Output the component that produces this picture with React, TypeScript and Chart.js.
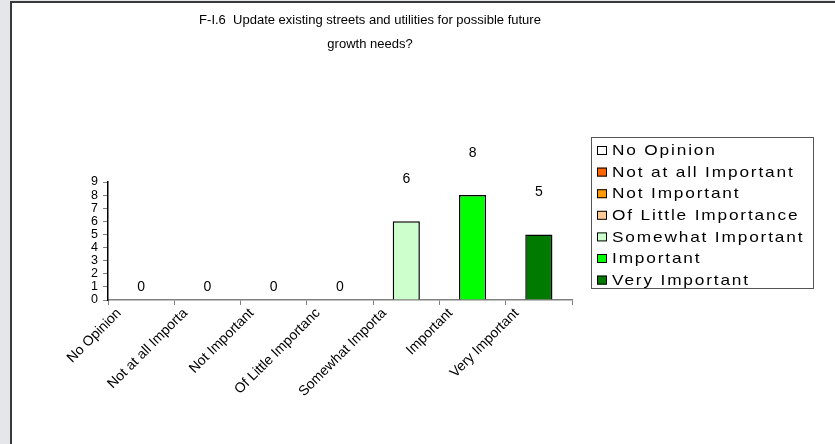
import React, { useEffect, useRef } from "react";
import { Chart, registerables } from "chart.js";

Chart.register(...registerables);

const categories = [
  "No Opinion",
  "Not at all Important",
  "Not Important",
  "Of Little Importance",
  "Somewhat Important",
  "Important",
  "Very Important",
];
const tickLabels = [
  "No Opinion",
  "Not at all Importa",
  "Not Important",
  "Of Little Importanc",
  "Somewhat Importa",
  "Important",
  "Very Important",
];
const values = [0, 0, 0, 0, 6, 8, 5];
const colors = ["#ffffff", "#ff6600", "#ff9900", "#ffcc99", "#ccffcc", "#00ff00", "#007a00"];
const titleLines = ["F-I.6  Update existing streets and utilities for possible future", "growth needs?"];
const yTicks = [0, 1, 2, 3, 4, 5, 6, 7, 8, 9];

const FONT = "'Liberation Sans', Arial, sans-serif";

const overlayPlugin = {
  id: "overlay",
  afterDraw(chart: any) {
    const ctx = chart.ctx;
    ctx.save();
    // title
    ctx.fillStyle = "#000";
    ctx.font = `13px ${FONT}`;
    ctx.textAlign = "center";
    ctx.textBaseline = "middle";
    titleLines.forEach((t, i) => ctx.fillText(t, 358, 17 + i * 24));

    // data labels
    const meta = chart.getDatasetMeta(0);
    ctx.font = `14px ${FONT}`;
    ctx.letterSpacing = "0px";
    meta.data.forEach((bar: any, i: number) => {
      const v = values[i];
      const off = v > 0 ? 42 : 13;
      ctx.fillText(String(v), bar.x, bar.y - off);
    });

    // legend
    const lx = 579, ly = 134, lw = 222, lh = 151;
    ctx.strokeStyle = "#555";
    ctx.lineWidth = 1;
    ctx.strokeRect(lx + 0.5, ly + 0.5, lw, lh);
    ctx.textAlign = "left";
    categories.forEach((c, i) => {
      const y = ly + 13 + i * 21.6;
      ctx.fillStyle = colors[i];
      ctx.fillRect(lx + 6, y - 4, 10, 9);
      ctx.strokeStyle = "#000";
      ctx.strokeRect(lx + 6.5, y - 3.5, 9, 8);
      ctx.save();
      ctx.translate(lx + 21, y + 1);
      ctx.scale(1.15, 1);
      ctx.font = `15px ${FONT}`;
      ctx.letterSpacing = "1.6px";
      ctx.fillStyle = "#000";
      ctx.fillText(c, 0, 0);
      ctx.restore();
    });
    ctx.restore();
  },
};

export default function App() {
  const ref = useRef<HTMLCanvasElement>(null);
  useEffect(() => {
    if (!ref.current) return;
    const chart = new Chart(ref.current, {
      type: "bar",
      data: {
        labels: tickLabels,
        datasets: [
          {
            data: values,
            backgroundColor: colors,
            borderColor: "#000",
            borderWidth: 1.5,
            categoryPercentage: 1,
            barPercentage: 0.41,
          },
        ],
      },
      options: {
        responsive: false,
        maintainAspectRatio: false,
        animation: false,
        layout: { padding: { top: 179, right: 263, left: 0, bottom: 0 } },
        plugins: { legend: { display: false }, title: { display: false }, tooltip: { enabled: false } },
        scales: {
          x: {
            afterFit: (s: any) => {
              s.height = 144;
            },
            border: { color: "#808080", width: 1.5 },
            grid: { drawOnChartArea: false, tickLength: 5, color: "#808080", offset: true },
            ticks: {
              autoSkip: false,
              maxRotation: 45,
              minRotation: 45,
              color: "#000",
              font: { family: FONT, size: 14 },
              padding: 0,
              labelOffset: -22,
            },
          },
          y: {
            min: 0,
            max: 9,
            afterFit: (s: any) => {
              s.width = 96;
            },
            afterBuildTicks: (s: any) => {
              s.ticks = yTicks.map((v) => ({ value: v }));
            },
            border: { color: "#000", width: 1.5 },
            grid: { drawOnChartArea: false, tickLength: 5, color: "#808080" },
            ticks: { color: "#000", font: { family: FONT, size: 12.5 }, padding: 5, autoSkip: false, stepSize: 1 },
          },
        },
      },
      plugins: [overlayPlugin],
    } as any);
    return () => chart.destroy();
  }, []);
  return (
    <div style={{ position: "fixed", left: 0, top: 0, width: 835, height: 444, background: "#e4e7ea", overflow: "hidden" }}>
      <div
        style={{
          position: "absolute",
          left: 10,
          top: 1,
          width: 825,
          height: 443,
          borderLeft: "2px solid #3a3a3a",
          borderTop: "2px solid #3a3a3a",
          background: "#fff",
          boxSizing: "border-box",
        }}
      >
        <canvas ref={ref} width={823} height={441} style={{ display: "block", width: 823, height: 441 }} />
      </div>
    </div>
  );
}
